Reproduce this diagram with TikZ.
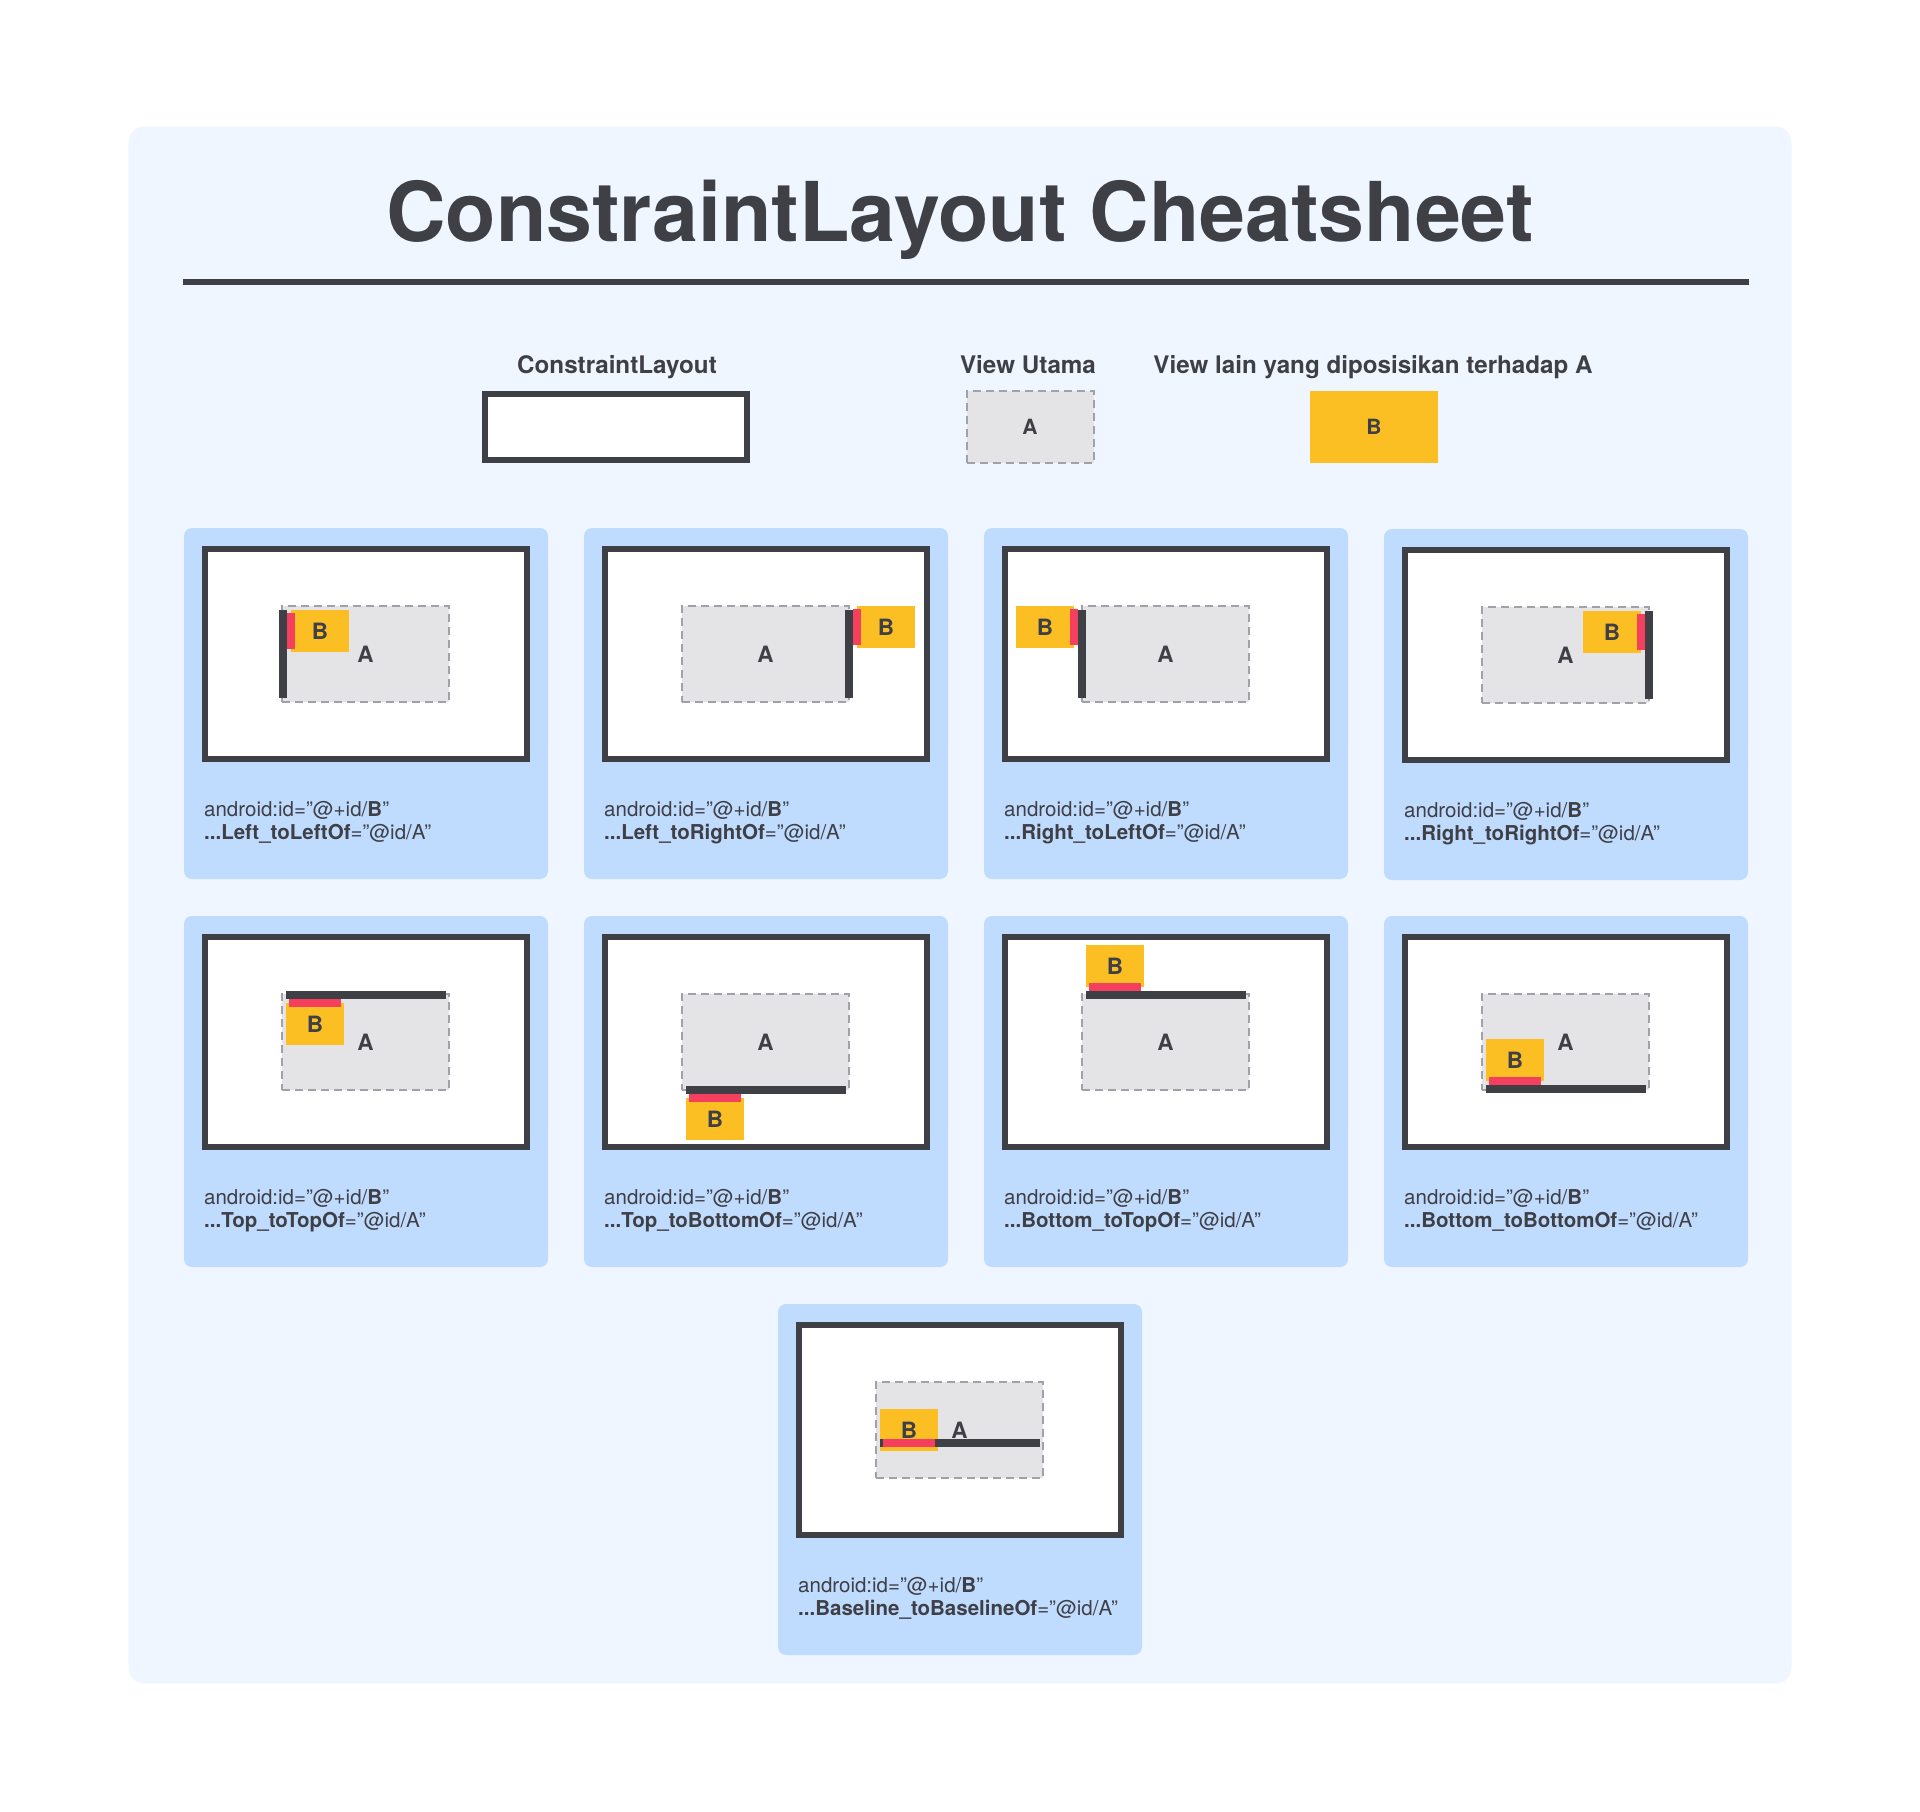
\documentclass[tikz,border=0pt]{standalone}
\usepackage{fontspec}
\setmainfont{TeX Gyre Heros}
\definecolor{ink}{HTML}{3F3F46}
\definecolor{panelbg}{HTML}{EFF6FF}
\definecolor{cardbg}{HTML}{BFDBFE}
\definecolor{viewgray}{HTML}{E4E4E7}
\definecolor{dashgray}{HTML}{A1A1AA}
\definecolor{viewyellow}{HTML}{FBBF24}
\definecolor{edgered}{HTML}{F43F5E}

% one constraint card: name, x, y, attribute, extra drawing
\newcommand\cheatcard[5]{%
  \begin{scope}[shift={(#2,#3)}]
    \node[card] (#1) at (182,175.5) {};
    \node[layoutframe] (#1-frame) at (182,126) {};
    \node[viewA] (#1-A) at (181.5,126) {A};
    #5
    \node[code] (#1-id) at (20,288) {android:id=”@+id/\textbf{B}”};
    \node[code] (#1-attr) at (20,311) {\textbf{...#4}=”@id/A”};
  \end{scope}}

\begin{document}
\begin{tikzpicture}[x=1pt,y=-1pt,
  panel/.style={fill=panelbg, rounded corners=16pt},
  card/.style={fill=cardbg, rounded corners=8pt, inner sep=0pt,
    minimum width=364pt, minimum height=351pt},
  layoutframe/.style={draw=ink, line width=6pt, fill=white, inner sep=0pt,
    minimum width=322pt, minimum height=210pt},
  viewA/.style={fill=viewgray, draw=dashgray, line width=2pt,
    dash pattern=on 8pt off 5pt, inner sep=0pt, text=ink,
    font=\fontsize{22.5}{24}\selectfont\bfseries,
    minimum width=167pt, minimum height=96pt},
  viewB/.style={fill=viewyellow, inner sep=0pt, text=ink,
    font=\fontsize{22.5}{24}\selectfont\bfseries,
    minimum width=58pt, minimum height=42pt},
  anchorbar/.style={fill=ink},
  edgebar/.style={fill=edgered},
  code/.style={anchor=base west, inner sep=0pt, text=ink,
    font=\fontsize{20.5}{22}\selectfont},
  legendlabel/.style={anchor=base, inner sep=0pt, text=ink,
    font=\fontsize{24.2}{26}\selectfont\bfseries},
  titletext/.style={anchor=base, inner sep=0pt, text=ink,
    font=\fontsize{82.5}{90}\selectfont\bfseries}]

\useasboundingbox (0,0) rectangle (1920,1812);
\fill[white] (0,0) rectangle (1920,1812);
\fill[panel] (128.5,126.5) rectangle (1791.5,1683.5);

% title and rule
\node[titletext] (title) at (960,241) {ConstraintLayout Cheatsheet};
\fill[ink] (183,279.2) rectangle (1749,284.8);

% legend
\node[legendlabel] (lg-layout-label) at (617,373) {ConstraintLayout};
\node[legendlabel] (lg-a-label) at (1028,373) {View Utama};
\node[legendlabel] (lg-b-label) at (1373,373) {View lain yang diposisikan terhadap A};
\node[layoutframe, minimum width=262pt, minimum height=66pt] (lg-layout) at (616,427) {};
\node[viewA, minimum width=127pt, minimum height=72pt,
  font=\fontsize{21}{23}\selectfont\bfseries] (lg-a) at (1030,427) {A};
\node[viewB, minimum width=128pt, minimum height=72pt,
  font=\fontsize{21}{23}\selectfont\bfseries] (lg-b) at (1374,427) {B};

% row 1
\cheatcard{c1}{184}{528}{Left\_toLeftOf}{%
  \node[viewB] (c1-B) at (136,103) {B};
  \fill[anchorbar] (95,82) rectangle (103,170);
  \fill[edgebar] (103,85) rectangle (111,121);}
\cheatcard{c2}{584}{528}{Left\_toRightOf}{%
  \node[viewB] (c2-B) at (302,99) {B};
  \fill[anchorbar] (261,82) rectangle (269,170);
  \fill[edgebar] (269,81) rectangle (277,117);}
\cheatcard{c3}{984}{528}{Right\_toLeftOf}{%
  \node[viewB] (c3-B) at (61,99) {B};
  \fill[anchorbar] (94,82) rectangle (102,170);
  \fill[edgebar] (86,81) rectangle (94,117);}
\cheatcard{c4}{1384}{529}{Right\_toRightOf}{%
  \node[viewB] (c4-B) at (228,103) {B};
  \fill[anchorbar] (261,82) rectangle (269,170);
  \fill[edgebar] (253,85) rectangle (261,121);}

% row 2
\cheatcard{c5}{184}{916}{Top\_toTopOf}{%
  \node[viewB] (c5-B) at (131,108) {B};
  \fill[anchorbar] (102,75) rectangle (262,83);
  \fill[edgebar] (105,83) rectangle (157,91);}
\cheatcard{c6}{584}{916}{Top\_toBottomOf}{%
  \node[viewB] (c6-B) at (131,203) {B};
  \fill[anchorbar] (102,170) rectangle (262,178);
  \fill[edgebar] (105,178) rectangle (157,186);}
\cheatcard{c7}{984}{916}{Bottom\_toTopOf}{%
  \node[viewB] (c7-B) at (131,50) {B};
  \fill[anchorbar] (102,75) rectangle (262,83);
  \fill[edgebar] (105,67) rectangle (157,75);}
\cheatcard{c8}{1384}{916}{Bottom\_toBottomOf}{%
  \node[viewB] (c8-B) at (131,144) {B};
  \fill[anchorbar] (102,169) rectangle (262,177);
  \fill[edgebar] (105,161) rectangle (157,169);}

% row 3
\cheatcard{c9}{778}{1304}{Baseline\_toBaselineOf}{%
  \node[viewB] (c9-B) at (131,126) {B};
  \fill[anchorbar] (102,135) rectangle (262,143);
  \fill[edgebar] (105,135) rectangle (157,143);}

\end{tikzpicture}
\end{document}
